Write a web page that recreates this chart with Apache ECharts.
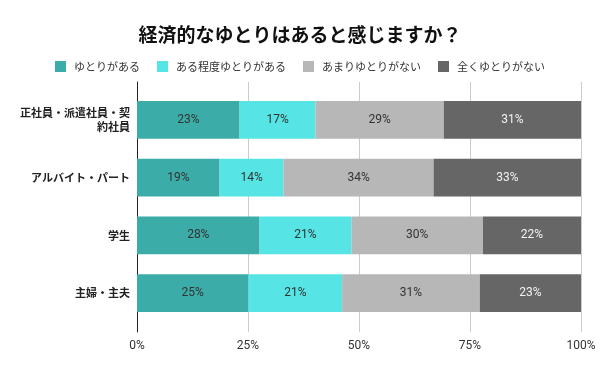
<!DOCTYPE html>
<html>
<head>
<meta charset="utf-8">
<script src="https://cdn.jsdelivr.net/npm/echarts@6/dist/echarts.min.js"></script>
<style>html,body{margin:0;padding:0;background:#fff;}#c{width:600px;height:371px;}</style>
</head>
<body>
<div id="c"></div>
<script>
const categories = ['正社員・派遣社員・契約社員', 'アルバイト・パート', '学生', '主婦・主夫'];
const seriesNames = ['ゆとりがある', 'ある程度ゆとりがある', 'あまりゆとりがない', '全くゆとりがない'];
const yutoriAru = [23.1, 18.6, 27.6, 25.1];
const aruTeido = [17.1, 14.4, 20.7, 21.1];
const amariNai = [28.9, 33.8, 29.6, 31.0];
const mattakuNai = [30.9, 33.2, 22.1, 22.8];
const seriesValues = [yutoriAru, aruTeido, amariNai, mattakuNai];
const colors = ['#3CACA9', '#56E4E4', '#B7B7B7', '#666666'];
const labelColors = ['#333333', '#333333', '#333333', '#F2F2F2'];

const FONT = 'Roboto, "Noto Sans CJK JP", sans-serif';
const chart = echarts.init(document.getElementById('c'));
chart.setOption({
  animation: false,
  color: colors,
  title: {
    text: '経済的なゆとりはあると感じますか？',
    left: 'center',
    top: 20,
    textStyle: { fontFamily: '"Noto Sans CJK JP", sans-serif', fontSize: 19, fontWeight: 'bold', color: '#111' }
  },
  legend: {
    data: seriesNames,
    left: 'center',
    top: 56,
    itemWidth: 11,
    itemHeight: 11,
    itemGap: 17,
    icon: 'rect',
    textStyle: { fontFamily: '"Noto Sans CJK JP", sans-serif', fontSize: 11, color: '#333', padding: [0, 0, 0, 3] }
  },
  grid: [
    { left: 137, right: 19, top: 82, bottom: 39 },
    { left: 137, right: 19, top: 91, bottom: 49 }
  ],
  xAxis: [
    {
      gridIndex: 0, type: 'value', min: 0, max: 100, interval: 25,
      axisLine: { show: false }, axisTick: { show: false },
      axisLabel: { formatter: '{value}%', fontFamily: FONT, fontSize: 12, color: '#333', margin: 8 },
      splitLine: { lineStyle: { color: '#CCCCCC', width: 1 } }
    },
    { gridIndex: 1, type: 'value', min: 0, max: 100, show: false }
  ],
  yAxis: [
    {
      gridIndex: 0, type: 'category', data: categories,
      axisLine: { show: true, lineStyle: { color: '#222', width: 1 } },
      axisTick: { show: false }, axisLabel: { show: false }, splitLine: { show: false }
    },
    {
      gridIndex: 1, type: 'category', data: categories, inverse: true,
      axisLine: { show: false }, axisTick: { show: false },
      axisLabel: {
        fontFamily: '"Noto Sans CJK JP", sans-serif', fontSize: 11, fontWeight: 'bold', color: '#222',
        margin: 7, lineHeight: 14, align: 'right',
        formatter: function (v) { return v.length > 10 ? v.slice(0, 10) + '\n' + v.slice(10) : v; }
      }
    }
  ],
  series: seriesValues.map(function (vals, i) {
    return {
      name: seriesNames[i],
      type: 'bar',
      stack: 'total',
      xAxisIndex: 1,
      yAxisIndex: 1,
      barCategoryGap: '35%',
      data: vals,
      itemStyle: { color: colors[i] },
      label: {
        show: true, position: 'inside',
        fontFamily: FONT, fontSize: 12, color: labelColors[i],
        formatter: function (p) { return Math.round(p.value) + '%'; }
      }
    };
  })
});
</script>
</body>
</html>
